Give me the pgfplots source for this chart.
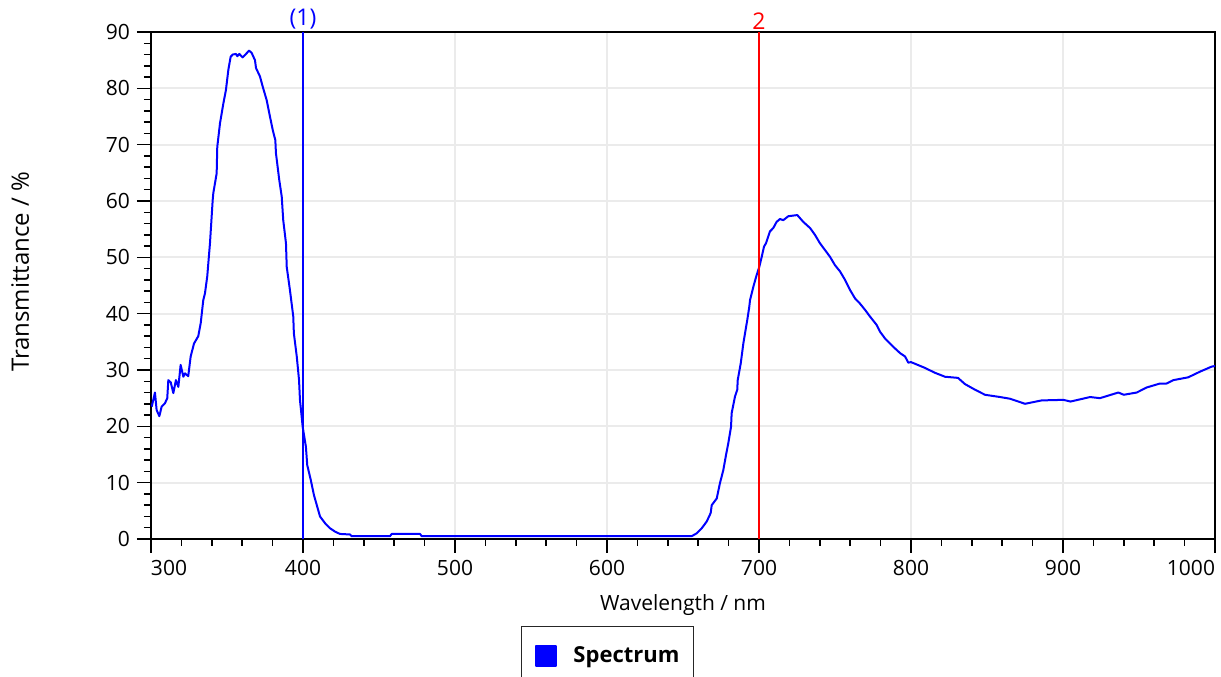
\documentclass[border=0pt]{standalone}
\usepackage{fontspec}
\setmainfont{Open Sans}
\usepackage{pgfplots}
\pgfplotsset{compat=1.18}

\definecolor{specblue}{HTML}{0000FF}
\definecolor{curred}{HTML}{FF0000}
\definecolor{gridgray}{HTML}{EBEBEB}

\begin{document}
\begin{tikzpicture}
\begin{axis}[
    scale only axis,
    width=532pt, height=253.5pt,
    xmin=300, xmax=1000,
    ymin=0, ymax=90,
    xtick={300,400,...,1000},
    xticklabels={\makebox[0pt][l]{300},400,500,600,700,800,900,\makebox[0pt][r]{1000}},
    ytick={0,10,...,90},
    minor tick num=4,
    tick align=outside,
    tick pos=left,
    major tick length=7pt,
    minor tick length=3.5pt,
    every tick/.style={black, line width=0.75pt},
    axis line style={black, line width=1pt},
    grid=major,
    major grid style={draw=gridgray, line width=1pt},
    font=\fontsize{10.5}{12}\selectfont,
    /pgf/number format/assume math mode=true,
    xlabel={Wavelength / nm},
    ylabel={Transmittance / \%},
    every axis x label/.style={at={(axis description cs:0.5,-0.130)}, anchor=center},
    every axis y label/.style={at={(axis description cs:-0.123,0.527)}, rotate=90, anchor=center,
        font=\fontsize{12}{14}\selectfont},
    legend style={
        at={(0.429,-0.1716)}, anchor=north,
        draw=black!85, line width=0.6pt,
        inner xsep=5pt, inner ysep=8pt,
        font=\fontsize{11}{13}\selectfont\bfseries,
        cells={anchor=west},
    },
    legend image code/.code={
        \fill[specblue] (2pt,-5pt) rectangle (12pt,5pt);
        \path (0pt,0pt) (18pt,0pt);
    },
    clip=false,
]

% spectrum
\addplot[specblue, line width=1pt, line join=round] coordinates {
(300.5,23.5) (302.6,26.0) (303.7,22.9) (305.5,21.8) (307.0,23.5) (309.2,24.1)
(310.7,25.0) (311.4,28.2) (313.0,27.8) (314.7,25.9) (316.4,28.2) (318.0,27.0)
(319.5,30.9) (321.3,28.8) (322.4,29.4) (324.5,28.9) (326.1,32.4) (328.3,34.7)
(331.1,36.0) (332.7,38.3) (334.4,42.4) (335.5,43.6) (337.0,46.6) (338.8,52.5)
(339.9,57.2) (340.6,60.2) (341.0,61.4) (343.2,64.9) (343.6,69.6) (345.4,73.8)
(347.6,77.3) (349.3,79.7) (350.9,83.3) (352.4,85.6) (353.8,86.0) (355.9,86.1)
(356.8,85.7) (358.1,86.1) (360.3,85.5) (362.5,86.1) (364.5,86.7) (366.2,86.3)
(368.4,85.0) (369.1,83.6) (371.7,82.1) (373.5,80.3) (376.1,77.9) (377.8,75.6)
(380.1,72.6) (381.8,70.8) (382.2,68.5) (384.4,63.7) (386.0,60.8) (387.0,56.6)
(388.8,52.5) (389.3,48.3) (391.4,44.2) (393.6,39.5) (394.0,36.5) (395.9,32.4)
(397.4,28.2) (398.0,24.7) (399.8,19.9) (401.9,16.4) (402.8,13.1) (405.1,10.5)
(407.2,7.8) (409.4,5.7) (411.2,4.0) (414.5,2.8) (417.8,1.9) (421.1,1.3)
(424.3,0.9) (430.9,0.8) (432.0,0.5) (457.2,0.5) (458.4,0.9) (477.0,0.9)
(478.1,0.5) (560.0,0.5) (655.7,0.5) (659.0,1.0) (662.3,1.9) (665.6,3.1)
(668.2,4.6) (668.9,6.0) (672.2,7.2) (674.3,9.9) (676.5,12.2) (678.3,14.9)
(679.8,17.0) (681.6,19.9) (682.0,22.3) (684.2,25.3) (685.7,26.5) (686.0,28.2)
(688.0,31.2) (689.7,34.7) (690.8,36.5) (692.3,38.9) (693.6,41.2) (694.1,42.4)
(696.3,44.8) (698.5,46.9) (700.2,48.3) (701.8,50.1) (703.3,51.9) (704.6,52.5)
(706.1,53.7) (707.2,54.6) (709.4,55.2) (711.6,56.3) (713.8,56.8) (716.0,56.6)
(719.3,57.3) (725.2,57.5) (729.1,56.3) (733.6,55.2) (736.8,54.0) (740.1,52.5)
(743.4,51.3) (746.7,50.1) (750.0,48.6) (753.3,47.5) (756.6,46.0) (759.9,44.2)
(763.2,42.7) (766.4,41.8) (769.7,40.7) (773.0,39.5) (777.4,38.0) (779.6,36.8)
(782.9,35.6) (788.4,34.1) (792.8,33.0) (796.1,32.4) (798.2,31.3) (800.0,31.4)
(808.9,30.4) (815.8,29.5) (822.4,28.8) (830.9,28.6) (835.5,27.5) (842.1,26.5)
(848.7,25.6) (858.6,25.2) (865.1,24.9) (875.0,24.0) (886.0,24.6) (900.2,24.7)
(905.0,24.4) (917.8,25.2) (924.3,25.0) (936.4,26.0) (940.0,25.6) (948.5,26.0)
(955.1,26.9) (963.8,27.6) (968.2,27.6) (972.6,28.2) (982.4,28.7) (990.1,29.7)
(997.8,30.6) (1000.0,30.7)
};
\addlegendentry{Spectrum}

% cursors
\addplot[specblue, line width=0.75pt, forget plot] coordinates {(400,0) (400,90)};
\addplot[curred, line width=0.75pt, forget plot] coordinates {(700,0) (700,90)};
\node[anchor=south, text=specblue, inner sep=1pt, font=\fontsize{11.5}{13}\selectfont] at (axis cs:400,90) {(1)};
\node[anchor=south, text=curred, inner sep=1pt, font=\fontsize{11.5}{13}\selectfont] at (axis cs:700,90) {2};

\coordinate (sw) at (rel axis cs:0,0);
\coordinate (ne) at (rel axis cs:1,1);
\end{axis}
\pgfresetboundingbox
\path[use as bounding box] ([shift={(-75.5pt,-69pt)}]sw) rectangle ([shift={(3pt,16pt)}]ne);
\end{tikzpicture}
\end{document}
